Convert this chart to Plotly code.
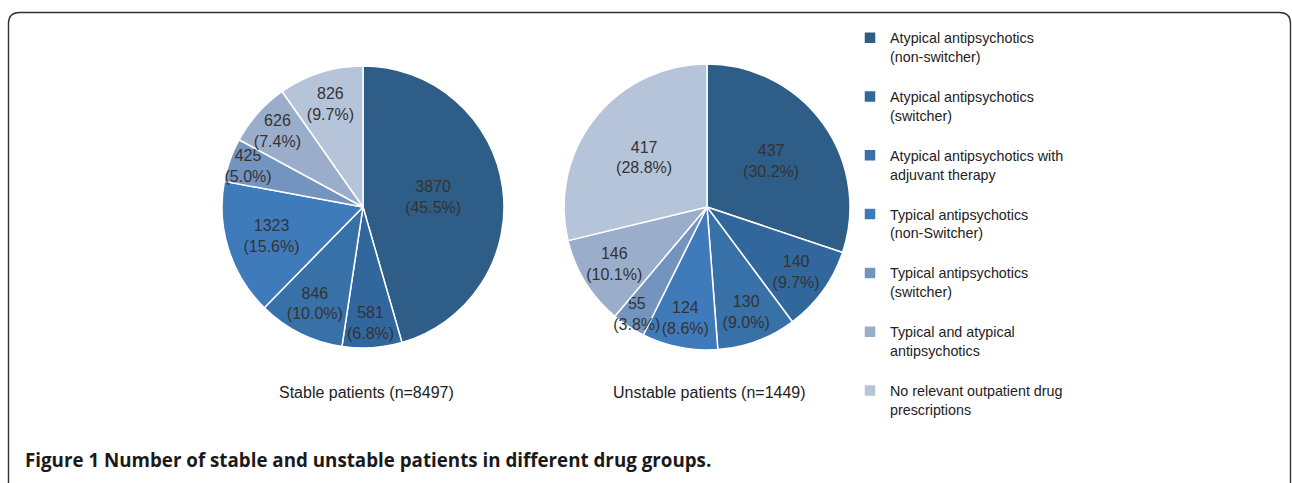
import plotly.graph_objects as go

labels = [
    "Atypical antipsychotics<br>(non-switcher)",
    "Atypical antipsychotics<br>(switcher)",
    "Atypical antipsychotics with<br>adjuvant therapy",
    "Typical antipsychotics<br>(non-Switcher)",
    "Typical antipsychotics<br>(switcher)",
    "Typical and atypical<br>antipsychotics",
    "No relevant outpatient drug<br>prescriptions",
]
stable = [3870, 581, 846, 1323, 425, 626, 826]
unstable = [437, 140, 130, 124, 55, 146, 417]
colors = ["#2E5D87", "#31679C", "#3870A8", "#3F7BBB", "#7494C0", "#9AAECB", "#B6C4DA"]
subtitles = ["Stable patients (n=8497)", "Unstable patients (n=1449)"]
caption = "<b>Figure 1 Number of stable and unstable patients in different drug groups.</b>"

W, H = 1292, 483
def px(x): return x / W
def py(y): return 1 - y / H

# legend labels with a blank line for spacing
leg_labels = [l + "<br> " for l in labels]

common = dict(
    sort=False, direction="clockwise", rotation=0,
    marker=dict(colors=colors, line=dict(color="white", width=1.5)),
    texttemplate="%{value}<br>(%{percent:.1%})",
    textposition="inside", insidetextorientation="horizontal",
    textfont=dict(family="Liberation Sans, Arial", size=16, color="#333333"),
    hoverinfo="label+value+percent",
)

fig = go.Figure()
fig.add_trace(go.Pie(labels=leg_labels, values=stable,
                     domain=dict(x=[px(222), px(504)], y=[py(348), py(66)]), **common))
fig.add_trace(go.Pie(labels=leg_labels, values=unstable, showlegend=False,
                     domain=dict(x=[px(564), px(850)], y=[py(350), py(64)]), **common))

for cx, t in zip([366, 709], subtitles):
    fig.add_annotation(x=px(cx), y=py(392), xref="paper", yref="paper", text=t,
                       showarrow=False, xanchor="center", yanchor="middle",
                       font=dict(family="Liberation Sans, Arial", size=16, color="#222222"))

fig.add_annotation(x=px(23), y=py(459), xref="paper", yref="paper", text=caption,
                   showarrow=False, xanchor="left", yanchor="middle",
                   font=dict(family="Open Sans, Liberation Sans", size=18.75, color="#1a1a1a"))

# rounded frame
x0, x1, yt, yb = px(8.5), px(1290.5), py(12.5), py(520)
rx, ry = 11 / W, 11 / H
path = (f"M {x0},{yb} L {x0},{yt - ry} Q {x0},{yt} {x0 + rx},{yt} "
        f"L {x1 - rx},{yt} Q {x1},{yt} {x1},{yt - ry} L {x1},{yb}")
fig.add_shape(type="path", path=path, xref="paper", yref="paper",
              line=dict(color="#333333", width=1.4))

fig.update_layout(
    width=W, height=H, margin=dict(l=0, r=0, t=0, b=0),
    paper_bgcolor="white", plot_bgcolor="white",
    uniformtext=dict(minsize=16, mode="show"),
    legend=dict(x=px(850), y=py(22), xanchor="left", yanchor="top",
                valign="top", traceorder="normal",
                font=dict(family="Liberation Sans, Arial", size=14.3, color="#222222"),
                bgcolor="rgba(0,0,0,0)"),
    font=dict(family="Liberation Sans, Arial"),
)

fig.write_html("out.html", config={"displayModeBar": False},
               post_script="document.body.style.margin='0px';")
